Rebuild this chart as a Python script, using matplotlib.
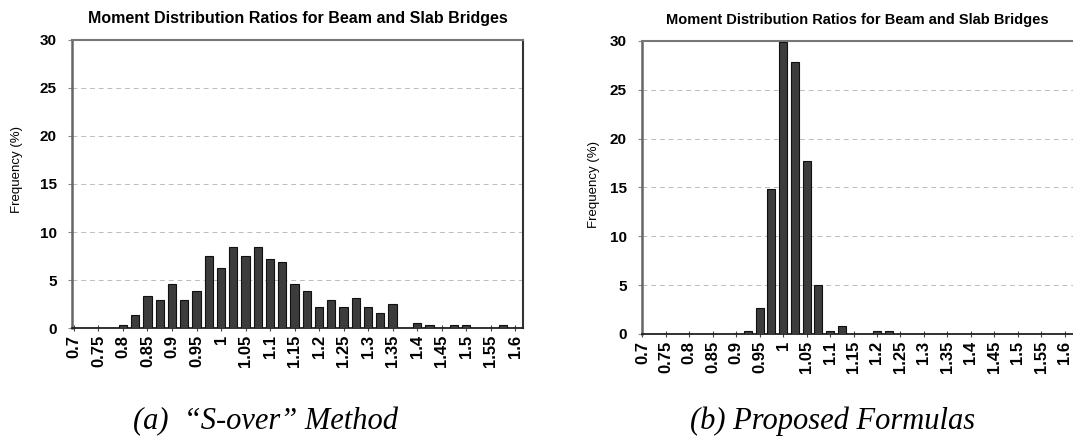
import matplotlib
matplotlib.use("Agg")
import matplotlib.pyplot as plt

# ratio categories (bin centres) and frequencies (%)
ratio_bins = [0.700, 0.725, 0.750, 0.775, 0.800, 0.825, 0.850, 0.875, 0.900,
              0.925, 0.950, 0.975, 1.000, 1.025, 1.050, 1.075, 1.100, 1.125,
              1.150, 1.175, 1.200, 1.225, 1.250, 1.275, 1.300, 1.325, 1.350,
              1.375, 1.400, 1.425, 1.450, 1.475, 1.500, 1.525, 1.550, 1.575,
              1.600]

freq_s_over = [0, 0, 0, 0, 0.3, 1.4, 3.3, 2.9, 4.6,
               2.9, 3.9, 7.5, 6.2, 8.4, 7.5, 8.4, 7.2, 6.9,
               4.6, 3.9, 2.2, 2.9, 2.2, 3.1, 2.2, 1.6, 2.5,
               0, 0.5, 0.3, 0, 0.3, 0.3, 0, 0, 0.3,
               0]

freq_proposed = [0, 0, 0, 0, 0, 0, 0, 0, 0,
                 0.3, 2.7, 14.8, 29.9, 27.9, 17.7, 5.0, 0.3, 0.8,
                 0, 0, 0.3, 0.3, 0, 0, 0, 0, 0,
                 0, 0, 0, 0, 0, 0, 0, 0, 0,
                 0]

tick_vals = [0.7, 0.75, 0.8, 0.85, 0.9, 0.95, 1.0, 1.05, 1.1, 1.15, 1.2,
             1.25, 1.3, 1.35, 1.4, 1.45, 1.5, 1.55, 1.6]
tick_labels = ["0.7", "0.75", "0.8", "0.85", "0.9", "0.95", "1", "1.05",
               "1.1", "1.15", "1.2", "1.25", "1.3", "1.35", "1.4", "1.45",
               "1.5", "1.55", "1.6"]
y_ticks = [0, 5, 10, 15, 20, 25, 30]

title = "Moment Distribution Ratios for Beam and Slab Bridges"

plt.rcParams['font.family'] = ['Liberation Sans', 'DejaVu Sans']

fig = plt.figure(figsize=(10.73, 4.37), dpi=100)


def draw_panel(rect, freqs, xlim, title_size, ylabel_pos, right_spine):
    ax = fig.add_axes(rect)
    ax.bar(ratio_bins, freqs, width=0.017, color='#3c3c3c',
           edgecolor='#111111', linewidth=0.8, zorder=3)
    ax.set_xlim(*xlim)
    ax.set_ylim(0, 30)
    ax.set_yticks(y_ticks)
    ax.set_yticklabels([str(v) for v in y_ticks], fontsize=11,
                       fontweight='bold')
    ax.set_xticks(tick_vals)
    ax.set_xticklabels(tick_labels, rotation=90, fontsize=12,
                       fontweight='bold')
    ax.tick_params(axis='x', direction='inout', length=4, width=0.8,
                   pad=3, color='#444444')
    ax.tick_params(axis='y', direction='out', length=3, width=0.8,
                   pad=8, color='#888888')
    ax.grid(axis='y', color='#bbbbbb', linewidth=0.7,
            linestyle=(0, (5, 4)), zorder=0)
    ax.set_axisbelow(True)
    ax.spines['left'].set_color('#666666')
    ax.spines['left'].set_linewidth(1.8)
    ax.spines['bottom'].set_color('#222222')
    ax.spines['bottom'].set_linewidth(1.3)
    ax.spines['top'].set_color('#777777')
    ax.spines['top'].set_linewidth(1.5)
    ax.spines['right'].set_color('#333333')
    ax.spines['right'].set_linewidth(1.5)
    ax.spines['right'].set_visible(right_spine)
    ax.set_title(title, fontsize=title_size, fontweight='bold', pad=12)
    ax.set_ylabel("Frequency (%)", fontsize=9.5)
    ax.yaxis.set_label_coords(*ylabel_pos)
    return ax


ax_a = draw_panel([0.0671, 0.2494, 0.4203, 0.6591], freq_s_over,
                  (0.696, 1.616), 11.5, (-0.108, 0.55), True)
ax_b = draw_panel([0.5983, 0.2357, 0.4017, 0.6705], freq_proposed,
                  (0.699, 1.618), 10.5, (-0.098, 0.51), False)

fig.text(0.247, 0.036, "(a)  \u201cS-over\u201d Method", family='Liberation Serif',
         style='italic', fontsize=22, ha='center', va='center')
fig.text(0.776, 0.036, "(b) Proposed Formulas", family='Liberation Serif',
         style='italic', fontsize=22, ha='center', va='center')

fig.savefig("out.png", dpi=100)
